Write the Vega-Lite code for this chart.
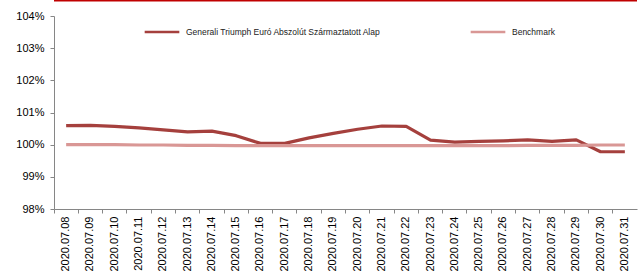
{
  "$schema": "https://vega.github.io/schema/vega-lite/v6.json",
  "width": 583,
  "height": 193,
  "autosize": {"type": "none"},
  "padding": {"left": 54, "top": 16, "right": 2, "bottom": 66},
  "background": "white",
  "config": {
    "view": {"stroke": null},
    "font": "Liberation Sans",
    "axisY": {
      "title": null, "values": [98, 99, 100, 101, 102, 103, 104],
      "labelExpr": "format(datum.value, '.0f') + '%'", "labelFontSize": 11,
      "labelColor": "#000000", "labelFont": "Liberation Sans", "grid": false,
      "tickColor": "#868686", "domainColor": "#868686", "tickSize": 4, "labelPadding": 6,
      "labelOverlap": false
    },
    "axisX": {
      "title": null, "labelAngle": -90, "labelFontSize": 11, "labelColor": "#000000",
      "labelFont": "Liberation Sans", "bandPosition": 0, "tickColor": "#868686",
      "domainColor": "#868686", "tickSize": 4, "labelPadding": 3, "grid": false,
      "labelOverlap": false
    }
  },
  "datasets": {
    "series": [
      {"date": "2020.07.08", "series": "Generali Triumph Euró Abszolút Származtatott Alap", "value": 100.59},
      {"date": "2020.07.09", "series": "Generali Triumph Euró Abszolút Származtatott Alap", "value": 100.60},
      {"date": "2020.07.10", "series": "Generali Triumph Euró Abszolút Származtatott Alap", "value": 100.57},
      {"date": "2020.07.11", "series": "Generali Triumph Euró Abszolút Származtatott Alap", "value": 100.52},
      {"date": "2020.07.12", "series": "Generali Triumph Euró Abszolút Származtatott Alap", "value": 100.46},
      {"date": "2020.07.13", "series": "Generali Triumph Euró Abszolút Származtatott Alap", "value": 100.40},
      {"date": "2020.07.14", "series": "Generali Triumph Euró Abszolút Származtatott Alap", "value": 100.42},
      {"date": "2020.07.15", "series": "Generali Triumph Euró Abszolút Származtatott Alap", "value": 100.28},
      {"date": "2020.07.16", "series": "Generali Triumph Euró Abszolút Származtatott Alap", "value": 100.04},
      {"date": "2020.07.17", "series": "Generali Triumph Euró Abszolút Származtatott Alap", "value": 100.04},
      {"date": "2020.07.18", "series": "Generali Triumph Euró Abszolút Származtatott Alap", "value": 100.21},
      {"date": "2020.07.19", "series": "Generali Triumph Euró Abszolút Származtatott Alap", "value": 100.35},
      {"date": "2020.07.20", "series": "Generali Triumph Euró Abszolút Származtatott Alap", "value": 100.48},
      {"date": "2020.07.21", "series": "Generali Triumph Euró Abszolút Származtatott Alap", "value": 100.58},
      {"date": "2020.07.22", "series": "Generali Triumph Euró Abszolút Származtatott Alap", "value": 100.57},
      {"date": "2020.07.23", "series": "Generali Triumph Euró Abszolút Származtatott Alap", "value": 100.14},
      {"date": "2020.07.24", "series": "Generali Triumph Euró Abszolút Származtatott Alap", "value": 100.08},
      {"date": "2020.07.25", "series": "Generali Triumph Euró Abszolút Származtatott Alap", "value": 100.10},
      {"date": "2020.07.26", "series": "Generali Triumph Euró Abszolút Származtatott Alap", "value": 100.12},
      {"date": "2020.07.27", "series": "Generali Triumph Euró Abszolút Származtatott Alap", "value": 100.15},
      {"date": "2020.07.28", "series": "Generali Triumph Euró Abszolút Származtatott Alap", "value": 100.10},
      {"date": "2020.07.29", "series": "Generali Triumph Euró Abszolút Származtatott Alap", "value": 100.15},
      {"date": "2020.07.30", "series": "Generali Triumph Euró Abszolút Származtatott Alap", "value": 99.78},
      {"date": "2020.07.31", "series": "Generali Triumph Euró Abszolút Származtatott Alap", "value": 99.78},
      {"date": "2020.07.08", "series": "Benchmark", "value": 100.00},
      {"date": "2020.07.09", "series": "Benchmark", "value": 100.00},
      {"date": "2020.07.10", "series": "Benchmark", "value": 100.00},
      {"date": "2020.07.11", "series": "Benchmark", "value": 99.99},
      {"date": "2020.07.12", "series": "Benchmark", "value": 99.99},
      {"date": "2020.07.13", "series": "Benchmark", "value": 99.98},
      {"date": "2020.07.14", "series": "Benchmark", "value": 99.98},
      {"date": "2020.07.15", "series": "Benchmark", "value": 99.97},
      {"date": "2020.07.16", "series": "Benchmark", "value": 99.97},
      {"date": "2020.07.17", "series": "Benchmark", "value": 99.97},
      {"date": "2020.07.18", "series": "Benchmark", "value": 99.97},
      {"date": "2020.07.19", "series": "Benchmark", "value": 99.97},
      {"date": "2020.07.20", "series": "Benchmark", "value": 99.97},
      {"date": "2020.07.21", "series": "Benchmark", "value": 99.97},
      {"date": "2020.07.22", "series": "Benchmark", "value": 99.97},
      {"date": "2020.07.23", "series": "Benchmark", "value": 99.97},
      {"date": "2020.07.24", "series": "Benchmark", "value": 99.97},
      {"date": "2020.07.25", "series": "Benchmark", "value": 99.97},
      {"date": "2020.07.26", "series": "Benchmark", "value": 99.97},
      {"date": "2020.07.27", "series": "Benchmark", "value": 99.98},
      {"date": "2020.07.28", "series": "Benchmark", "value": 99.98},
      {"date": "2020.07.29", "series": "Benchmark", "value": 99.98},
      {"date": "2020.07.30", "series": "Benchmark", "value": 99.99},
      {"date": "2020.07.31", "series": "Benchmark", "value": 99.99}
    ],
    "topline": [{"v": 104.5}]
  },
  "layer": [
    {
      "data": {"name": "series"},
      "mark": {"type": "line", "strokeWidth": 3.2, "strokeJoin": "round", "strokeCap": "butt"},
      "encoding": {
        "x": {
          "field": "date", "type": "ordinal",
          "scale": {"type": "band", "paddingInner": 0, "paddingOuter": 0}
        },
        "y": {
          "field": "value", "type": "quantitative",
          "scale": {"domain": [98, 104], "zero": false, "nice": false}
        },
        "color": {
          "field": "series", "type": "nominal",
          "sort": ["Generali Triumph Euró Abszolút Származtatott Alap", "Benchmark"],
          "scale": {"domain": ["Generali Triumph Euró Abszolút Származtatott Alap", "Benchmark"], "range": ["#a5403d", "#d99795"]},
          "legend": {
            "title": null, "orient": "none", "legendX": 89, "legendY": -3,
            "direction": "horizontal", "symbolType": "stroke", "symbolSize": 1200,
            "symbolStrokeWidth": 2.5, "labelFontSize": 8.5, "labelFont": "Liberation Sans",
            "labelColor": "#222222", "columnPadding": 84, "labelLimit": 400, "labelOffset": 5
          }
        }
      }
    },
    {
      "data": {"name": "topline"},
      "mark": {"type": "rule", "color": "#c00000", "strokeWidth": 3, "clip": false},
      "encoding": {"y": {"field": "v", "type": "quantitative"}}
    }
  ]
}
